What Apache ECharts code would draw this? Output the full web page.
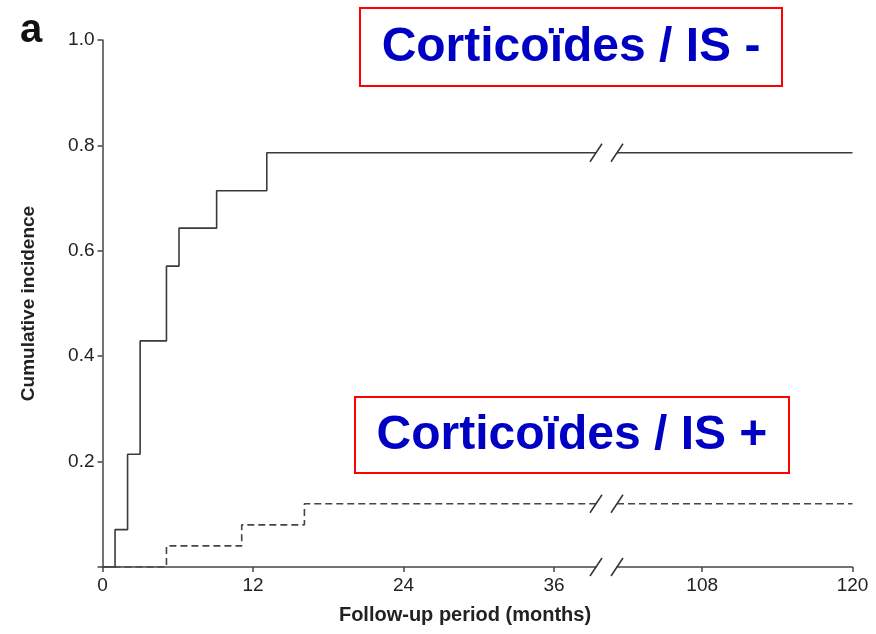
<!DOCTYPE html>
<html>
<head>
<meta charset="utf-8">
<script src="https://cdn.jsdelivr.net/npm/echarts@6/dist/echarts.min.js"></script>
<style>
  html, body { margin: 0; padding: 0; background: #fff; }
  #chart { width: 876px; height: 634px; }
</style>
</head>
<body>
<div id="chart"></div>
<script>
// Cumulative incidence, step curves per group (months -> proportion)
const monthsNeg = [0, 1, 2, 3, 5.1, 6.1, 9.1, 13.1];
const incidenceNeg = [0, 0.071, 0.214, 0.429, 0.571, 0.643, 0.714, 0.786];
const monthsPos = [0, 5.1, 11.1, 16.1];
const incidencePos = [0, 0.04, 0.08, 0.12];
const followUpEnd = 120;

// Broken time axis: early segment and late segment
const breakFrom = 39.35;
const breakTo = 101.2;
const earlyTicks = [0, 12, 24, 36];
const lateTicks = [108, 120];
const yTicks = [0, 0.2, 0.4, 0.6, 0.8, 1.0];

const groupLabels = ['Corticoïdes / IS -', 'Corticoïdes / IS +'];
const panelLetter = 'a';
const xTitle = 'Follow-up period (months)';
const yTitle = 'Cumulative incidence';

const FONT = '"Liberation Sans", Arial, Helvetica, sans-serif';
const AXIS_COLOR = '#454545';
const TEXT_COLOR = '#222';

function zip(xs, ys) { return xs.map((x, i) => [x, ys[i]]); }

function earlyPart(xs, ys) {
  const pts = zip(xs, ys);
  pts.push([breakFrom, ys[ys.length - 1]]);
  return pts;
}
function latePart(ys) {
  const last = ys[ys.length - 1];
  return [[breakTo, last], [followUpEnd, last]];
}

// Break marks sit on each curve and on the time axis
const breakLevels = [incidenceNeg[incidenceNeg.length - 1], incidencePos[incidencePos.length - 1], 0];

function slashRenderer(params, api) {
  const p = api.coord([api.value(0), api.value(1)]);
  return {
    type: 'line',
    shape: { x1: p[0] - 6, y1: p[1] + 9, x2: p[0] + 6, y2: p[1] - 9 },
    style: { stroke: '#333', lineWidth: 1.5 }
  };
}

const axisLineStyle = { color: AXIS_COLOR, width: 1.5 };
const labelStyle = { fontFamily: FONT, fontSize: 19, color: TEXT_COLOR };

const chart = echarts.init(document.getElementById('chart'), null, { renderer: 'canvas' });

const option = {
  animation: false,
  backgroundColor: '#fff',
  grid: [
    { left: 102.5, top: 40, width: 493.5, height: 527 },
    { left: 617, top: 40, width: 235.5, height: 527 }
  ],
  xAxis: [
    {
      type: 'value', gridIndex: 0, min: 0, max: breakFrom,
      axisLine: { show: true, onZero: false, lineStyle: axisLineStyle },
      axisTick: { show: true, customValues: earlyTicks, length: 5, lineStyle: axisLineStyle },
      axisLabel: Object.assign({ customValues: earlyTicks, margin: 9 }, labelStyle),
      splitLine: { show: false }
    },
    {
      type: 'value', gridIndex: 1, min: breakTo, max: followUpEnd,
      axisLine: { show: true, onZero: false, lineStyle: axisLineStyle },
      axisTick: { show: true, customValues: lateTicks, length: 5, lineStyle: axisLineStyle },
      axisLabel: Object.assign({ customValues: lateTicks, margin: 9 }, labelStyle),
      splitLine: { show: false }
    }
  ],
  yAxis: [
    {
      type: 'value', gridIndex: 0, min: 0, max: 1, interval: 0.2,
      name: yTitle, nameLocation: 'middle', nameGap: 64, nameRotate: 90,
      nameTextStyle: { fontFamily: FONT, fontSize: 19, fontWeight: 'bold', color: TEXT_COLOR },
      axisLine: { show: true, lineStyle: axisLineStyle },
      axisTick: { show: true, customValues: yTicks, length: 5, lineStyle: axisLineStyle },
      axisLabel: Object.assign({
        customValues: yTicks, margin: 8,
        formatter: v => (v === 0 ? '' : v.toFixed(1))
      }, labelStyle),
      splitLine: { show: false }
    },
    {
      type: 'value', gridIndex: 1, min: 0, max: 1, interval: 0.2, show: false
    }
  ],
  series: [
    {
      name: groupLabels[0], type: 'line', step: 'end', xAxisIndex: 0, yAxisIndex: 0,
      data: earlyPart(monthsNeg, incidenceNeg), symbol: 'none',
      lineStyle: { color: '#3a3a3a', width: 1.6 }
    },
    {
      name: groupLabels[0], type: 'line', xAxisIndex: 1, yAxisIndex: 1,
      data: latePart(incidenceNeg), symbol: 'none',
      lineStyle: { color: '#3a3a3a', width: 1.6 }
    },
    {
      name: groupLabels[1], type: 'line', step: 'end', xAxisIndex: 0, yAxisIndex: 0,
      data: earlyPart(monthsPos, incidencePos), symbol: 'none',
      lineStyle: { color: '#454545', width: 1.6, type: [7, 4] }
    },
    {
      name: groupLabels[1], type: 'line', xAxisIndex: 1, yAxisIndex: 1,
      data: latePart(incidencePos), symbol: 'none',
      lineStyle: { color: '#454545', width: 1.6, type: [7, 4] }
    },
    {
      type: 'custom', xAxisIndex: 0, yAxisIndex: 0, clip: false, silent: true,
      data: breakLevels.map(v => [breakFrom, v]), renderItem: slashRenderer, z: 5
    },
    {
      type: 'custom', xAxisIndex: 1, yAxisIndex: 1, clip: false, silent: true,
      data: breakLevels.map(v => [breakTo, v]), renderItem: slashRenderer, z: 5
    }
  ],
  graphic: [
    {
      type: 'text', left: 20, top: 11,
      style: { text: panelLetter, font: 'bold 40px ' + FONT, fill: '#111' }
    },
    {
      type: 'text', x: 465, y: 615,
      style: {
        text: xTitle, font: 'bold 20px ' + FONT, fill: TEXT_COLOR,
        align: 'center', verticalAlign: 'middle'
      }
    },
    {
      type: 'group', x: 360, y: 8,
      children: [
        { type: 'rect', shape: { x: 0, y: 0, width: 422, height: 78 },
          style: { fill: '#fff', stroke: '#ff0000', lineWidth: 2 } },
        { type: 'text', x: 211, y: 40,
          style: { text: groupLabels[0], font: 'bold 48px ' + FONT, fill: '#0000c4',
                   align: 'center', verticalAlign: 'middle' } }
      ]
    },
    {
      type: 'group', x: 355, y: 397,
      children: [
        { type: 'rect', shape: { x: 0, y: 0, width: 434, height: 76 },
          style: { fill: '#fff', stroke: '#ff0000', lineWidth: 2 } },
        { type: 'text', x: 217, y: 39,
          style: { text: groupLabels[1], font: 'bold 48px ' + FONT, fill: '#0000c4',
                   align: 'center', verticalAlign: 'middle' } }
      ]
    }
  ]
};

chart.setOption(option);
</script>
</body>
</html>
